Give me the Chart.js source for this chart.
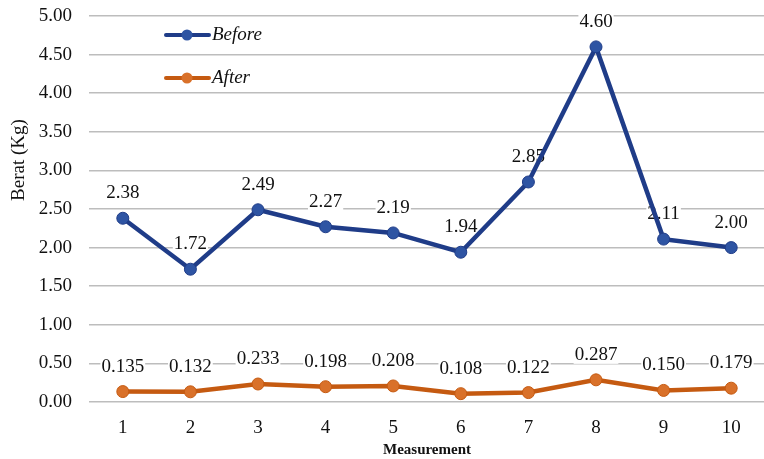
<!DOCTYPE html>
<html>
<head>
<meta charset="utf-8">
<script src="https://cdn.jsdelivr.net/npm/chart.js@4/dist/chart.umd.min.js"></script>
<style>
    html, body { margin: 0; padding: 0; background: #fff; overflow: hidden; }
    #wrap { width: 772px; height: 459px; }
</style>
</head>
<body>
<div id="wrap"><canvas id="chart" width="772" height="459"></canvas></div>
<script>
// ============================================================================
// BERAT BEFORE / AFTER CHART
// ============================================================================

const measurements = ['1', '2', '3', '4', '5', '6', '7', '8', '9', '10'];
const beforeValues = [2.38, 1.72, 2.49, 2.27, 2.19, 1.94, 2.85, 4.60, 2.11, 2.00];
const afterValues = [0.135, 0.132, 0.233, 0.198, 0.208, 0.108, 0.122, 0.287, 0.150, 0.179];
const seriesNames = ['Before', 'After'];
const labelDecimals = [2, 3];

const SERIF = "'Liberation Serif', 'Times New Roman', serif";

// value labels above each point, with a white box so gridlines break behind them
const valueLabels = {
    id: 'valueLabels',
    beforeDatasetsDraw(chart) {
        const ctx = chart.ctx;
        ctx.save();
        ctx.font = `19px ${SERIF}`;
        ctx.textAlign = 'center';
        ctx.textBaseline = 'middle';
        chart.data.datasets.forEach((ds, i) => {
            chart.getDatasetMeta(i).data.forEach((pt, j) => {
                const text = ds.data[j].toFixed(labelDecimals[i]);
                const w = ctx.measureText(text).width;
                ctx.fillStyle = '#fff';
                ctx.fillRect(pt.x - w / 2 - 1, pt.y - 25 - 9, w + 2, 18);
                ctx.fillStyle = '#111';
                ctx.fillText(text, pt.x, pt.y - 25);
            });
        });
        ctx.restore();
    }
};

// legend inside the plot, plus the y-axis title
const extras = {
    id: 'extras',
    afterDraw(chart) {
        const ctx = chart.ctx;
        ctx.save();
        chart.data.datasets.forEach((ds, i) => {
            const y = 35 + i * 43;
            ctx.strokeStyle = ds.borderColor;
            ctx.lineWidth = 4;
            ctx.lineCap = 'round';
            ctx.beginPath();
            ctx.moveTo(166, y);
            ctx.lineTo(209, y);
            ctx.stroke();
            ctx.fillStyle = ds.pointBackgroundColor;
            ctx.beginPath();
            ctx.arc(187, y, 5.5, 0, Math.PI * 2);
            ctx.fill();
            ctx.fillStyle = '#111';
            ctx.font = `italic 19px ${SERIF}`;
            ctx.textAlign = 'left';
            ctx.textBaseline = 'middle';
            ctx.fillText(ds.label, 212, y);
        });
        ctx.translate(19, 160);
        ctx.rotate(-Math.PI / 2);
        ctx.font = `19px ${SERIF}`;
        ctx.textAlign = 'center';
        ctx.textBaseline = 'middle';
        ctx.fillStyle = '#111';
        ctx.fillText('Berat (Kg)', 0, 0);
        ctx.restore();
    }
};

const ctx = document.getElementById('chart').getContext('2d');

new Chart(ctx, {
    type: 'line',
    data: {
        labels: measurements,
        datasets: [
            {
                label: seriesNames[0],
                data: beforeValues,
                borderColor: '#1F3C88',
                backgroundColor: '#2E54A3',
                pointBackgroundColor: '#2E54A3',
                pointBorderColor: '#1F3C88',
                borderWidth: 4.5,
                pointRadius: 6,
                pointBorderWidth: 1,
                tension: 0
            },
            {
                label: seriesNames[1],
                data: afterValues,
                borderColor: '#C55A11',
                backgroundColor: '#D9712A',
                pointBackgroundColor: '#D9712A',
                pointBorderColor: '#C55A11',
                borderWidth: 4.5,
                pointRadius: 6,
                pointBorderWidth: 1,
                tension: 0
            }
        ]
    },
    options: {
        responsive: false,
        animation: false,
        layout: {
            padding: { top: 16, right: 1, left: 0, bottom: 0 }
        },
        plugins: {
            legend: { display: false },
            tooltip: { enabled: false }
        },
        scales: {
            x: {
                offset: true,
                grid: { display: false, drawTicks: false },
                border: { display: false },
                ticks: {
                    color: '#111',
                    padding: 15,
                    font: { family: SERIF, size: 19 }
                },
                title: {
                    display: true,
                    text: 'Measurement',
                    color: '#111',
                    padding: { top: 0, bottom: 0 },
                    font: { family: SERIF, size: 15, weight: 'bold' }
                },
                afterFit(scale) { scale.height = 57; }
            },
            y: {
                min: 0,
                max: 5,
                ticks: {
                    stepSize: 0.5,
                    color: '#111',
                    padding: 17,
                    font: { family: SERIF, size: 19 },
                    callback: v => v.toFixed(2)
                },
                grid: { color: '#BDBDBD', lineWidth: 1.5, drawTicks: false },
                border: { display: false },
                afterFit(scale) {
                    scale.width = 89;
                    scale.paddingTop = 0;
                    scale.paddingBottom = 0;
                }
            }
        }
    },
    plugins: [valueLabels, extras]
});
</script>
</body>
</html>
